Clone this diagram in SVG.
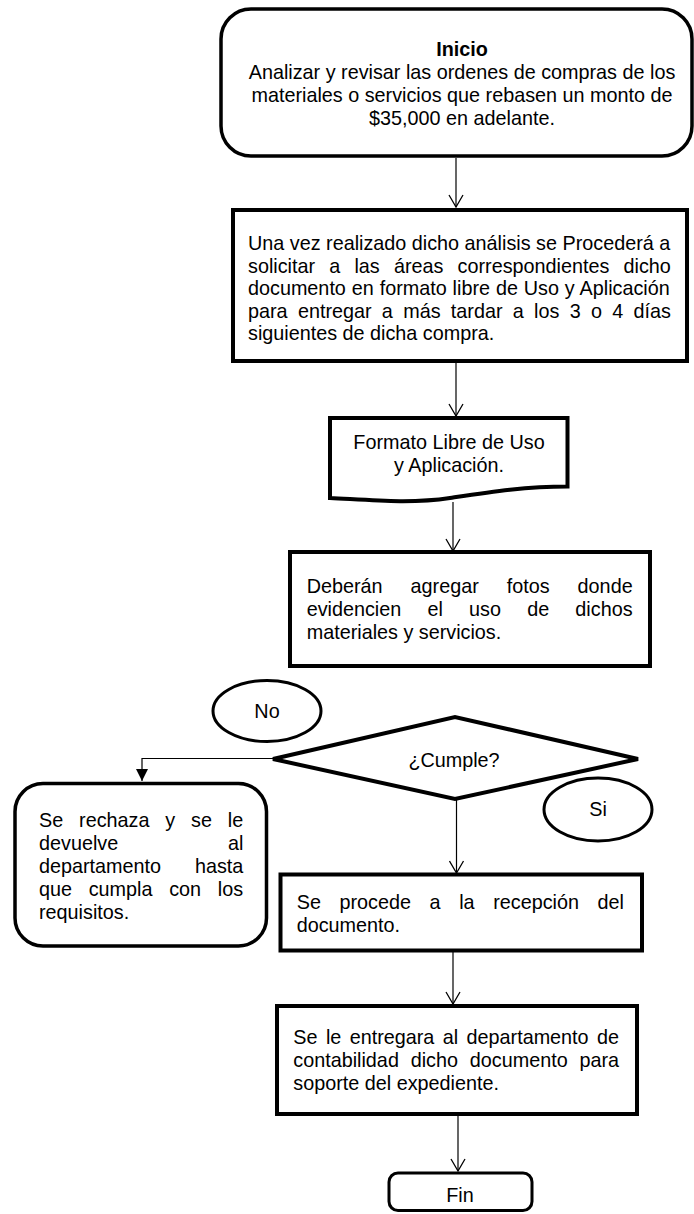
<svg xmlns="http://www.w3.org/2000/svg" width="694" height="1214" viewBox="0 0 694 1214">
<style>
  .shape { fill: #ffffff; stroke: #000000; }
  .thick { stroke-width: 4; }
  .mid { stroke-width: 3.5; }
  .thin { stroke-width: 3; }
  text { font-family: "Liberation Sans", Arial, sans-serif; font-size: 19.8px; fill: #000000; }
  .c { text-anchor: middle; }
  .e { text-anchor: end; }
  .b { font-weight: bold; }
  .conn { fill: none; stroke: #000000; stroke-width: 1.2; }
</style>
<defs>
  <marker id="open" viewBox="0 0 14 16" refX="13" refY="8" markerWidth="14" markerHeight="16" markerUnits="userSpaceOnUse" orient="auto">
    <path d="M1,1 L13,8 L1,15" fill="none" stroke="#000000" stroke-width="1.3"/>
  </marker>
  <marker id="filled" viewBox="0 0 12 12" refX="12" refY="6" markerWidth="12" markerHeight="12" markerUnits="userSpaceOnUse" orient="auto">
    <path d="M0,0 L12,6 L0,12 Z" fill="#000000"/>
  </marker>
</defs>
<rect width="694" height="1214" fill="#ffffff"/>

<g id="connectors">
  <path class="conn" d="M456,158 V207" marker-end="url(#open)"/>
  <path class="conn" d="M456,363 V416" marker-end="url(#open)"/>
  <path class="conn" d="M453,502 V551" marker-end="url(#open)"/>
  <path class="conn" d="M273,758.5 H142 V781" marker-end="url(#filled)"/>
  <path class="conn" d="M456.5,799 V873" marker-end="url(#open)"/>
  <path class="conn" d="M453,952 V1004" marker-end="url(#open)"/>
  <path class="conn" d="M458,1116 V1171" marker-end="url(#open)"/>
</g>

<g id="inicio">
  <rect class="shape mid" x="221" y="9" width="471" height="147" rx="30" ry="30"/>
  <text class="c b" x="462" y="56">Inicio</text>
  <text class="c" x="462" y="79">Analizar y revisar las ordenes de compras de los</text>
  <text class="c" x="462" y="102">materiales o servicios que rebasen un monto de</text>
  <text class="c" x="462" y="125">$35,000 en adelante.</text>
</g>

<g id="solicitar">
  <rect class="shape thick" x="233" y="210" width="454" height="151"/>
  <text x="248" y="250">Una vez realizado dicho análisis se Procederá a</text>
  <text x="248" y="272.5" word-spacing="8.7">solicitar a las áreas correspondientes dicho</text>
  <text x="248" y="295" word-spacing="0.4">documento en formato libre de Uso y Aplicación</text>
  <text x="248" y="317.5" word-spacing="4.8">para entregar a más tardar a los 3 o 4 días</text>
  <text x="248" y="340">siguientes de dicha compra.</text>
</g>

<g id="formato">
  <path class="shape thick" d="M330,418 H567.5 V486.5 C525,486.5 490,492 450,498 C410,504 370,500 330,498 Z"/>
  <text class="c" x="449" y="448.5">Formato Libre de Uso</text>
  <text class="c" x="449" y="471.5">y Aplicación.</text>
</g>

<g id="fotos">
  <rect class="shape thick" x="290" y="552" width="360" height="114"/>
  <text x="306.7" y="593" word-spacing="22.5">Deberán agregar fotos donde</text>
  <text x="306.7" y="616" word-spacing="20.7">evidencien el uso de dichos</text>
  <text x="306.7" y="638.5">materiales y servicios.</text>
</g>

<g id="no">
  <ellipse class="shape thin" cx="267" cy="711" rx="54" ry="30.5"/>
  <text class="c" x="267" y="718">No</text>
</g>

<g id="cumple">
  <polygon class="shape thick" points="273,759 455,717 638,759 455,799"/>
  <text class="c" x="454" y="767">¿Cumple?</text>
</g>

<g id="si">
  <ellipse class="shape thin" cx="598" cy="809.5" rx="54" ry="31.5"/>
  <text class="c" x="598" y="816">Si</text>
</g>

<g id="rechaza">
  <rect class="shape mid" x="15" y="783.5" width="251.5" height="162.5" rx="28" ry="28"/>
  <text x="39" y="826.5" word-spacing="10.35">Se rechaza y se le</text>
  <text x="39" y="849.5">devuelve</text>
  <text class="e" x="243.3" y="849.5">al</text>
  <text x="39" y="872.5">departamento</text>
  <text class="e" x="243.3" y="872.5">hasta</text>
  <text x="39" y="895.5" word-spacing="11.2">que cumpla con los</text>
  <text x="39" y="918.5">requisitos.</text>
</g>

<g id="recepcion">
  <rect class="shape thick" x="280.5" y="874.5" width="361.5" height="76"/>
  <text x="296.7" y="908.5" word-spacing="13.1">Se procede a la recepción del</text>
  <text x="296.7" y="932">documento.</text>
</g>

<g id="entregar">
  <rect class="shape thick" x="277" y="1006" width="360" height="108"/>
  <text x="293.3" y="1044" word-spacing="2.9">Se le entregara al departamento de</text>
  <text x="293.3" y="1066.5" word-spacing="6.3">contabilidad dicho documento para</text>
  <text x="293.3" y="1090">soporte del expediente.</text>
</g>

<g id="fin">
  <rect class="shape thin" x="389" y="1173" width="143" height="37.5" rx="9" ry="9"/>
  <text class="c" x="460" y="1202">Fin</text>
</g>
</svg>
